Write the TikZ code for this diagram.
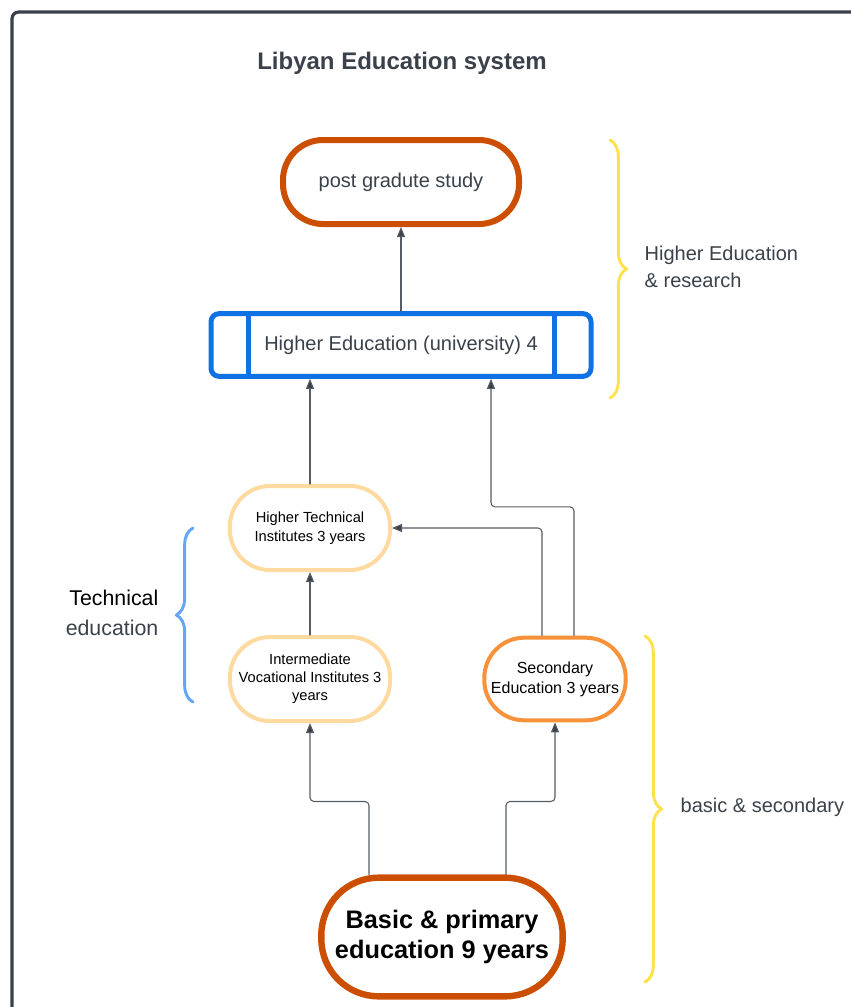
\documentclass[tikz,border=0pt]{standalone}
\usepackage{fontspec}
\setmainfont{Liberation Sans}
\usetikzlibrary{arrows.meta,calc,decorations.pathreplacing}
\definecolor{inkgray}{RGB}{58,65,74}
\definecolor{linegray}{RGB}{86,92,100}
\definecolor{rust}{RGB}{204,78,0}
\definecolor{uniblue}{RGB}{16,113,229}
\definecolor{paleorange}{RGB}{255,218,160}
\definecolor{midorange}{RGB}{247,146,58}
\definecolor{braceyellow}{RGB}{255,225,77}
\definecolor{braceblue}{RGB}{100,166,245}

\begin{document}
\begin{tikzpicture}[x=0.75pt,y=-0.75pt,line cap=round,line join=round,
  pill/.style={rectangle,draw,fill=white,align=center,inner sep=0pt,rounded corners=30pt},
  conn/.style={draw=linegray,line width=0.8pt,rounded corners=3pt,-{Triangle[length=7.5pt,width=6pt,fill=inkgray]}},
  bracket/.style={decorate,decoration={brace,amplitude=12.5pt},line width=2.2pt}]
\useasboundingbox (0,0) rectangle (850,1007);
\draw[inkgray,line width=2.4pt,rounded corners=5pt] (12,1030) -- (12,12) -- (880,12);
\node[font=\fontsize{18}{22}\selectfont\bfseries,text=inkgray] (title) at (402,63) {Libyan Education system};
\node[pill,draw=rust,line width=4.5pt,minimum width=177pt,minimum height=63pt,font=\fontsize{15}{18}\selectfont,text=inkgray] (post) at (401,182) {post gradute study};
\node[rectangle,draw=uniblue,fill=white,line width=3.75pt,rounded corners=6pt,minimum width=285pt,minimum height=47pt,font=\fontsize{15}{18}\selectfont,text=inkgray] (uni) at (401,345) {Higher Education (university) 4};
\draw[uniblue,line width=3.75pt,line cap=butt] ($(uni.north)+(-153,0)$) -- ($(uni.south)+(-153,0)$);
\draw[uniblue,line width=3.75pt,line cap=butt] ($(uni.north)+(153,0)$) -- ($(uni.south)+(153,0)$);
\node[pill,draw=paleorange,line width=3pt,minimum width=120pt,minimum height=63pt,font=\fontsize{11}{14.5}\selectfont] (htech) at (310,528) {Higher Technical\\Institutes 3 years};
\node[pill,draw=paleorange,line width=3pt,minimum width=120pt,minimum height=63pt,font=\fontsize{11}{13.5}\selectfont] (ivoc) at (310,679) {Intermediate\\Vocational Institutes 3\\years};
\node[pill,draw=midorange,line width=3pt,minimum width=106pt,minimum height=62pt,font=\fontsize{12}{15}\selectfont] (sec) at (555,679) {Secondary\\Education 3 years};
\node[pill,draw=rust,line width=4.8pt,rounded corners=43pt,minimum width=181pt,minimum height=89pt,font=\fontsize{19}{23}\selectfont\bfseries] (basic) at (442,937) {Basic \& primary\\education 9 years};
\draw[conn] (uni.north) -- (post.south);
\draw[conn] (htech.north) -- (htech.north |- uni.south);
\draw[conn] ($(sec.north)+(19,0)$) |- ($(uni.south)+(90,128)$) -- ($(uni.south)+(90,0)$);
\draw[conn] ($(sec.north)+(-13,0)$) |- (htech.east);
\draw[conn] (ivoc.north) -- (htech.south);
\draw[conn] ($(basic.north)+(-73,0)$) -- ++(0,-73) -| (ivoc.south);
\draw[conn] ($(basic.north)+(64,0)$) -- ++(0,-73) -| (sec.south);
\draw[bracket,braceyellow] (610,140) -- (610,398);
\node[anchor=west,align=left,font=\fontsize{15}{20}\selectfont,text=inkgray] (hrlabel) at (640,267) {Higher Education\\\& research};
\draw[bracket,braceblue] (193,702) -- (193,528);
\node[anchor=east,align=right,font=\fontsize{16}{23}\selectfont] (techlabel) at (163,613) {Technical\\\textcolor{inkgray}{education}};
\draw[bracket,braceyellow] (645,636) -- (645,982);
\node[anchor=west,font=\fontsize{15}{18}\selectfont,text=inkgray] (bslabel) at (676,807) {basic \& secondary};
\end{tikzpicture}
\end{document}
